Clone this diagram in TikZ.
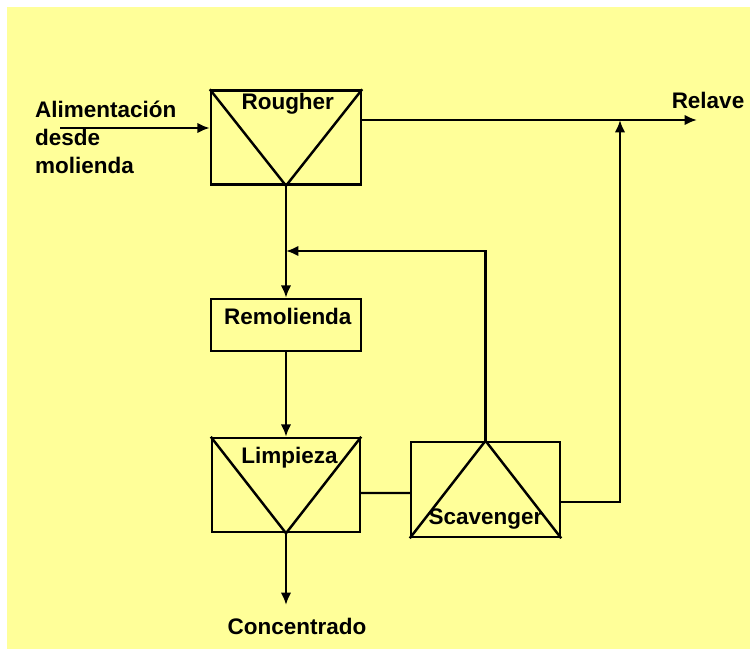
\documentclass[tikz,border=0pt]{standalone}
\usepackage{fontspec}
\setmainfont{Liberation Sans}
\usepackage{xcolor}
\usepackage{tikz}
\usetikzlibrary{positioning,calc,arrows.meta}

\definecolor{pale}{RGB}{255,255,153}

\begin{document}
\begin{tikzpicture}[x=0.02cm,y=-0.02cm,
		unit/.style={draw,line width=1.4pt,minimum width=3cm,minimum height=1.88cm,inner sep=0pt},
		tag/.style={inner sep=1pt,font=\fontsize{12.8}{15.9}\selectfont\bfseries},
		flow/.style={line width=1.4pt,-{Latex[length=7pt,width=6pt]}},
		pipe/.style={line width=1.4pt}]
			\useasboundingbox (0,0) rectangle (750,652);
			\fill[white] (0,0) rectangle (750,652);
			\fill[pale] (7,7) rectangle (750,649);
			
			\node[unit] (rough) at (286,137.5) {};
			\node[unit,minimum height=1.04cm] (remol) at (286,325) {};
			\node[unit,minimum width=2.96cm] (limp) at (286,485) {};
			\node[unit,minimum width=2.98cm,minimum height=1.9cm] (scav) at (485.5,489.5) {};
			
			\draw[pipe] (rough.north west) -- (rough.south) -- (rough.north east);
			\draw[pipe] (limp.north west) -- (limp.south) -- (limp.north east);
			\draw[pipe] (scav.south west) -- (scav.north) -- (scav.south east);
			
			\node[tag,below=1pt of rough.north,xshift=1pt] (roughtxt) {Rougher};
			\node[tag,below=5pt of remol.north,xshift=1pt] (remoltxt) {Remolienda};
			\node[tag,below=4.5pt of limp.north,xshift=2pt] (limptxt) {Limpieza};
			\node[tag,above=4pt of scav.south] (scavtxt) {Scavenger};
			
			\node[tag,align=left,anchor=north west] (feedtxt) at (33,99) {Alimentaci\'on\\desde\\molienda};
			\node[tag] (relave) at (708,100) {Relave};
			\node[tag] (conc) at (297,626) {Concentrado};
			
			\coordinate (feed) at (60,128);
			\coordinate (tail) at (697,120);
			\coordinate (ret) at (286,251);
			\coordinate (drop) at (286,605);
			\coordinate (rise) at (620,502);
			
			\draw[flow] (feed) -- (feed -| rough.west);
			\draw[flow] (rough.east |- tail) -- (tail);
			\draw[flow] (rough.south) -- (remol.north);
			\draw[flow] (remol.south) -- (limp.north);
			\draw[flow] (scav.north) |- (ret);
			\draw[pipe] ($(limp.east)+(0,8)$) -- ($(scav.west)+(0,3.5)$);
			\draw[flow] (scav.east |- rise) -- (rise) -- (rise |- tail);
			\draw[flow] (limp.south) -- (drop);
\end{tikzpicture}
\end{document}
